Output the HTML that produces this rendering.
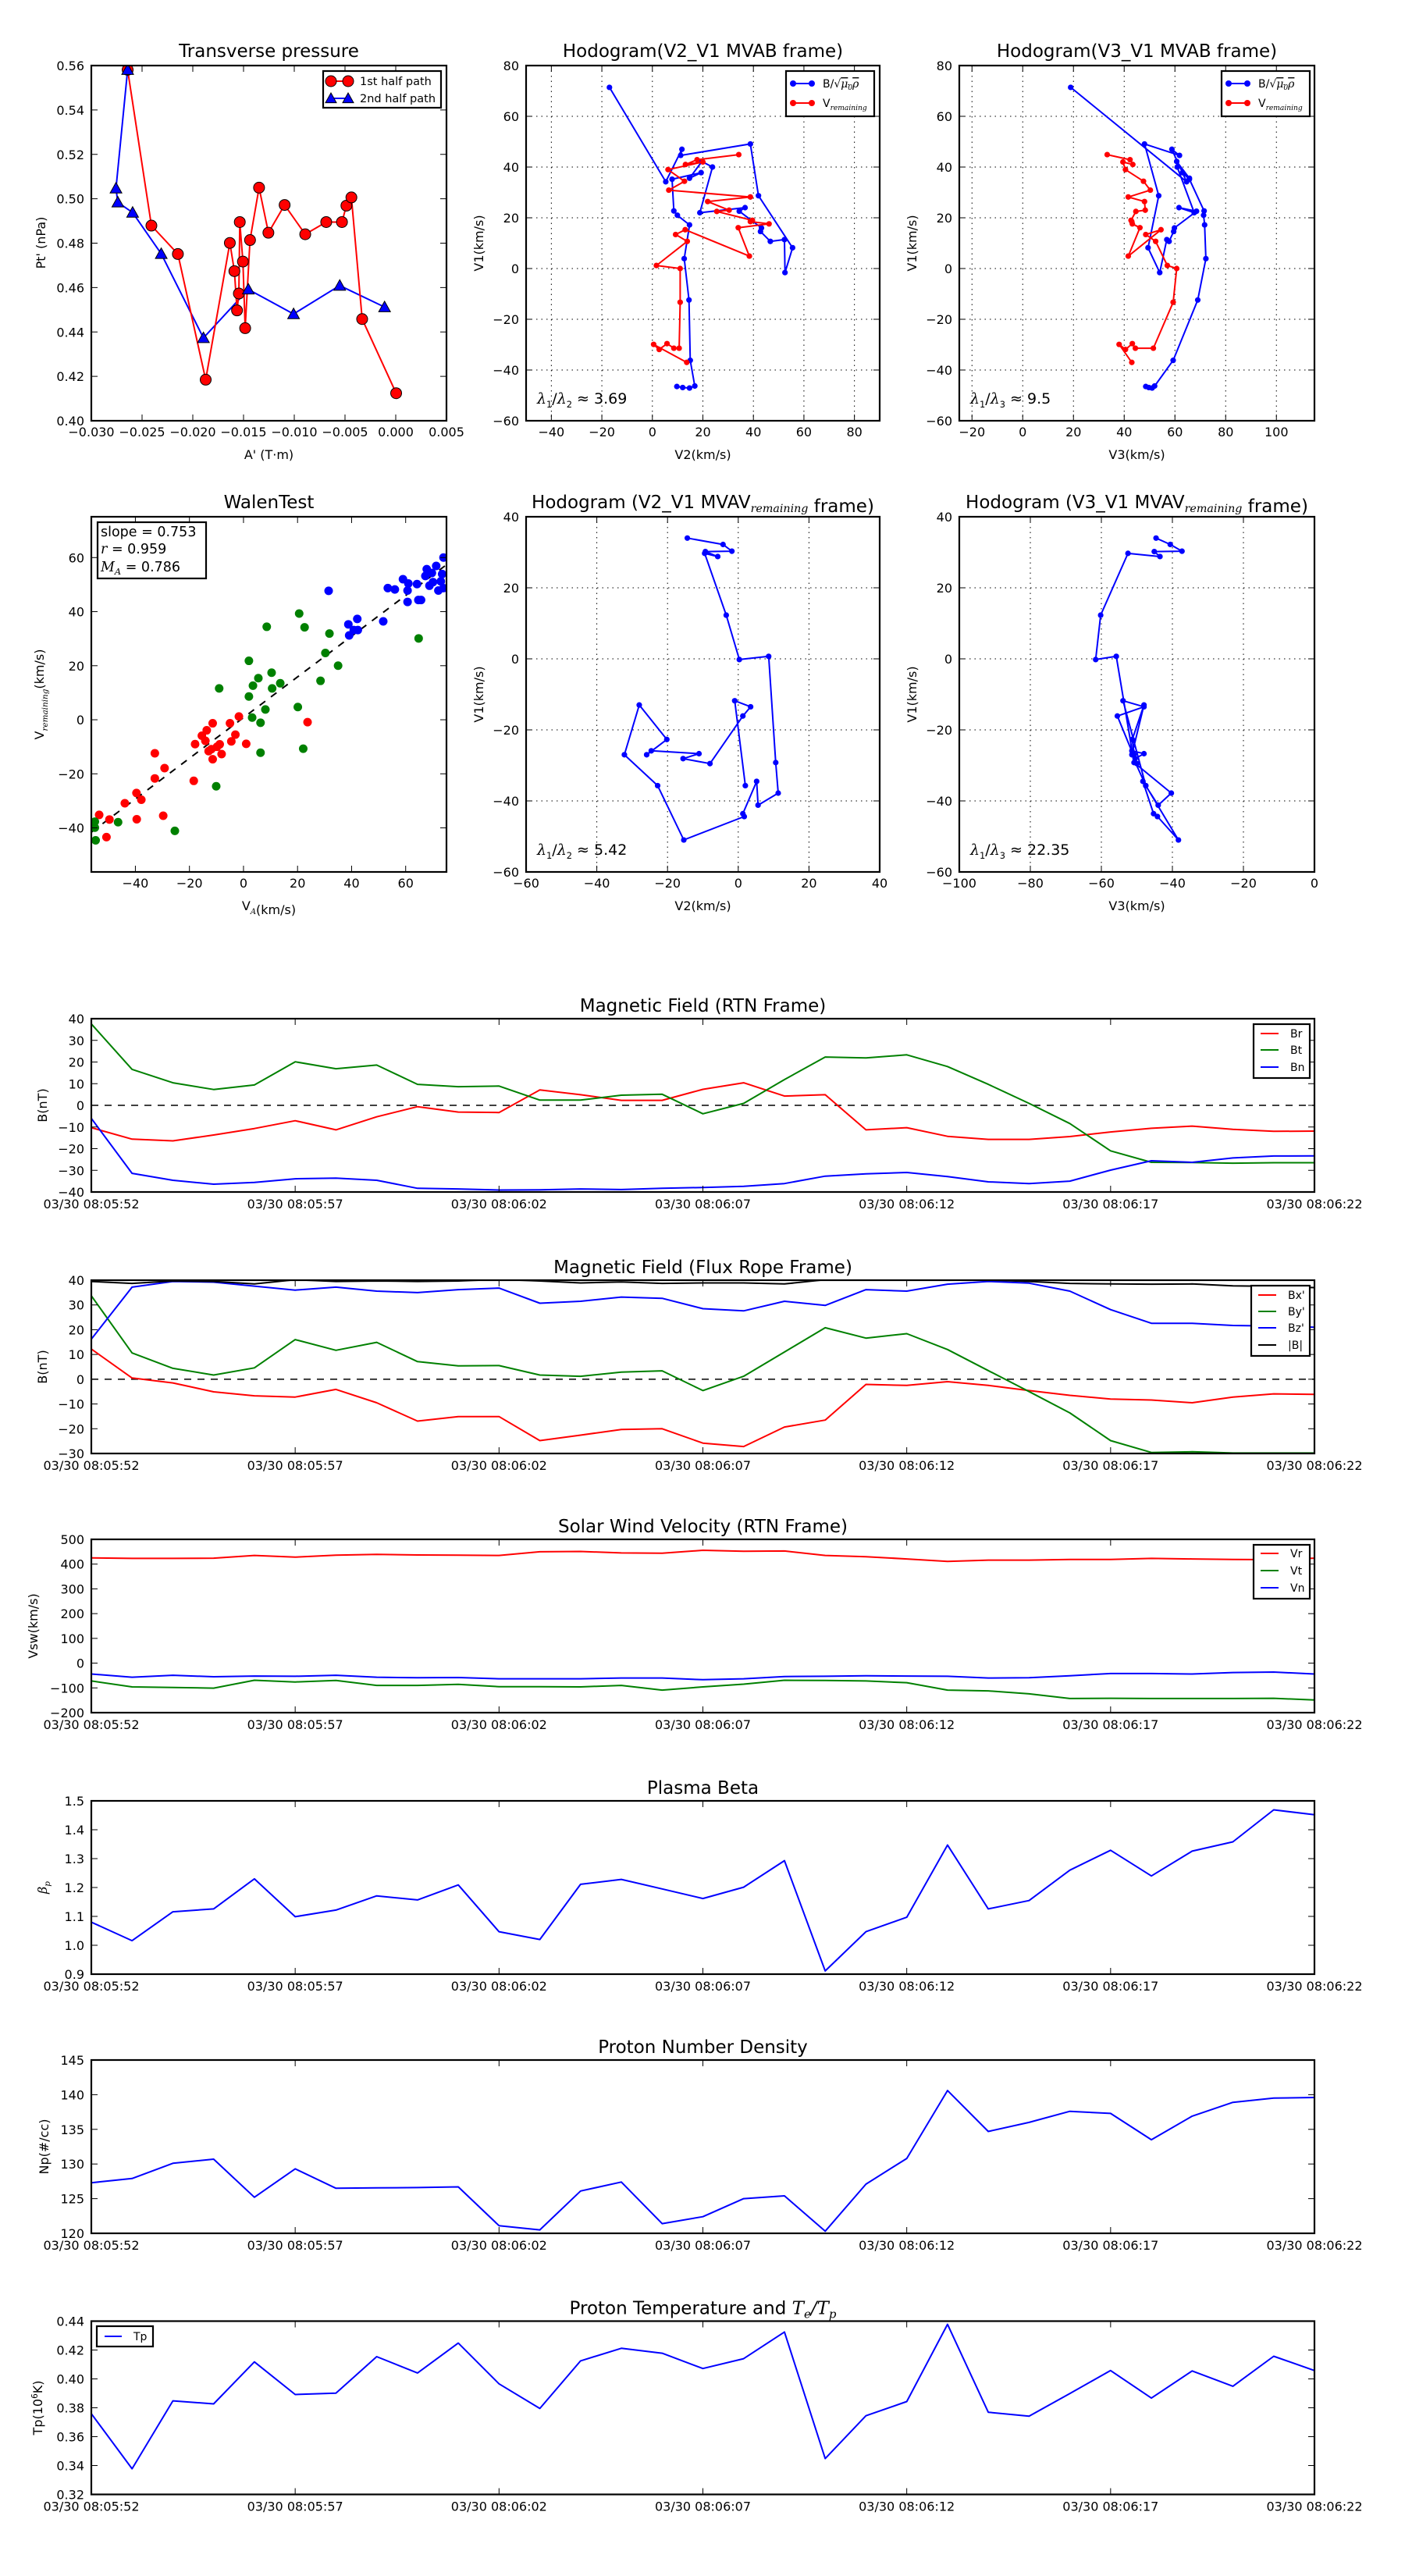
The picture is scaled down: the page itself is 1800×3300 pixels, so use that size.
<!DOCTYPE html>
<html><head><meta charset="utf-8"><title>Flux rope analysis</title>
<style>
body{margin:0;background:#fff}
svg{display:block;font-family:"DejaVu Sans","Liberation Sans",sans-serif}
</style></head>
<body>
<svg id="fig" width="1800" height="3300" viewBox="0 0 1800 3300" xmlns="http://www.w3.org/2000/svg">
<rect x="0" y="0" width="1800" height="3300" fill="#fff"/>
</svg>
<script>
// ---------- Transverse pressure ----------
const tpA1 = [-0.02642,-0.02408,-0.02147,-0.01873,-0.01635,-0.01590,-0.01564,-0.01546,-0.01537,-0.01506,-0.01484,-0.01436,-0.01347,-0.01255,-0.01095,-0.00892,-0.00685,-0.00530,-0.00486,-0.00437,-0.00331,0.00004];
const tpP1 = [0.5581,0.4879,0.4751,0.4185,0.4801,0.4674,0.4497,0.4573,0.4895,0.4717,0.4417,0.4814,0.5050,0.4847,0.4972,0.4840,0.4895,0.4895,0.4969,0.5006,0.4458,0.4124];
const tpA2 = [-0.02642,-0.02757,-0.02739,-0.02593,-0.02311,-0.01895,-0.01453,-0.01007,-0.00552,-0.00110];
const tpP2 = [0.5581,0.5047,0.4984,0.4938,0.4752,0.4373,0.4592,0.4481,0.4609,0.4512];
const tpXTicks = [-0.030,-0.025,-0.020,-0.015,-0.010,-0.005,0.000,0.005];
const tpYTicks = [0.40,0.42,0.44,0.46,0.48,0.50,0.52,0.54,0.56];

// ---------- Hodograms MVAB ----------
const hbV1 = [71.4,34.2,47,44.6,49.1,28.7,8.2,-1.6,11.4,10.7,14.6,16,22.6,24,22,40,42.2,35.6,37.8,35.2,22.7,21,17.2,3.9,-12.4,-36.2,-46.3,-47.1,-46.9,-46.5];
const hbV2 = [-17,5.3,11.7,11.2,38.8,42,55.5,52.5,52.3,46.7,42.8,43.2,34.4,36.7,18.8,23.8,19.6,14.7,19.3,7.8,8.5,9.9,14.7,12.6,14.5,15,16.8,14.7,12,9.7];
const hbV3 = [18.9,64.6,58.8,61.8,48,53.6,49.4,54,56.8,57.7,59.5,59.8,68.5,61.6,67.6,60.9,60.7,65.7,63,65.7,71.5,71.3,71.7,72.2,69,59.3,52,51,49.7,48.5];
const hvV1 = [44.9,42.9,41,42,39,34.4,30.9,28.2,26.4,23,22.5,19,18.5,17.6,16.1,4.9,15.3,13.4,10.7,1.2,0,-13.3,-31.4,-31.4,-29.6,-31.9,-29.9,-37];
const hvV2 = [34.2,17.7,13.1,20,6.2,12.7,6.5,38.8,21.9,30.4,25.5,39.6,38.8,46.2,34,38.4,13,9.2,13.8,1.6,11,11,10.6,8.5,5.8,2.7,0.5,13.6];
const hvV3 = [33.3,42.3,43.4,39.5,40.5,47.6,50.3,41.6,48,48.3,44.6,42.7,43,43.2,46.2,41.6,54.5,48.5,52.4,57,60.7,59.3,51.5,44.4,43.2,40.5,38,43];

// ---------- Hodograms MVAV ----------
const hmV1 = [34,32.2,30.3,30.2,28.8,29.7,12.3,-0.2,0.7,-29.2,-37.8,-41.2,-34.5,-43.6,-44.4,-51,-35.7,-27,-13,-22.7,-27,-25.9,-26.7,-28.1,-29.5,-16.1,-13.5,-11.8,-35.7];
const hmV2 = [-14.4,-4.3,-1.8,-9.3,-5.8,-9.5,-3.4,0.3,8.6,10.6,11.3,5.6,5.2,1.3,1.7,-15.4,-22.8,-32.2,-28,-20.2,-25.9,-24.6,-11.1,-15.6,-8,1.3,3.5,-1,2.0];
const hmV3 = [-44.6,-40.6,-37.3,-45.1,-43.5,-52.5,-60.2,-61.6,-55.8,-50.8,-40.3,-44,-48.3,-45.3,-44.2,-38.3,-47.5,-51.4,-48,-51.3,-50.8,-51.4,-48,-50.5,-50,-55.5,-48,-53.9,-47.5];

// ---------- Walen test ----------
const walenRedX = [-53.4,-49.6,-50.7,-43.9,-39.6,-37.8,-39.5,-32.8,-32.8,-29.2,-29.7,-18.4,-17.9,-15.4,-13.6,-14.1,-12.9,-11.4,-11.9,-11.4,-9.8,-8.8,-8.1,-5,-4.5,-3,-1.7,1,23.7];
const walenRedY = [-35.2,-36.9,-43.4,-30.9,-27.1,-29.6,-36.8,-12.4,-21.7,-17.9,-35.5,-22.6,-9,-5.9,-3.9,-7.8,-11.6,-1.3,-10.9,-14.6,-10,-9.1,-12.7,-1.3,-8,-5.5,1.2,-8.9,-0.9];
const walenGreenX = [-55,-55,-54.7,-46.4,-25.4,-10.1,-9,2,2,3.2,3.5,5.5,6.3,6.3,8.1,8.6,10.4,10.6,13.6,20.1,20.6,22.1,22.6,28.5,30.3,31.8,35,64.8];
const walenGreenY = [-37.7,-39.9,-44.6,-37.9,-41.1,-24.6,11.6,21.8,8.6,0.8,12.6,15.4,-1.1,-12.2,3.8,34.4,17.4,11.6,13.5,4.7,39.3,-10.7,34.2,14.4,24.7,31.9,20,30.1];
const walenBlueX = [31.5,38.8,39.1,40.8,42.1,42.3,51.7,53.4,56,59,60.7,60.7,61,64.2,64.7,65.7,67.3,67.8,68.8,69.7,70.1,71.3,72.1,73,73.5,74,74];
const walenBlueY = [47.7,35.3,31.2,33.2,37.3,33.2,36.4,48.7,48.2,52,43.6,47.8,50.4,50.2,44.3,44.3,53.2,55.7,49.6,54.3,50.9,56.9,47.8,51.2,53.9,60,48.7];
const walenSlope = 0.753;
const walenIntercept = 0.8;
const walenTicks = [-40,-20,0,20,40,60];

// ---------- Time series (1 s cadence, 31 samples) ----------
const timeSec = [0,1,2,3,4,5,6,7,8,9,10,11,12,13,14,15,16,17,18,19,20,21,22,23,24,25,26,27,28,29,30];
const timeTickSec = [0,5,10,15,20,25,30];
const timeTickLabels = ["03/30 08:05:52","03/30 08:05:57","03/30 08:06:02","03/30 08:06:07","03/30 08:06:12","03/30 08:06:17","03/30 08:06:22"];
const brRTN = [-10.3,-15.6,-16.4,-13.7,-10.7,-7.1,-11.3,-5.3,-0.6,-3.1,-3.3,7.1,4.9,2.3,2.3,7.4,10.4,4.3,4.9,-11.3,-10.3,-14.3,-15.7,-15.7,-14.4,-12.3,-10.6,-9.6,-11.1,-12,-11.9];
const btRTN = [37.6,16.6,10.4,7.3,9.4,20.1,16.9,18.6,9.7,8.6,8.9,2.4,2.4,4.7,5.1,-3.9,0.9,11.9,22.3,21.9,23.3,17.9,9.7,0.9,-8.4,-21,-26.3,-26.4,-26.7,-26.5,-26.5];
const bnRTN = [-6,-31.4,-34.6,-36.4,-35.6,-33.9,-33.6,-34.6,-38.3,-38.6,-39.1,-39,-38.6,-38.9,-38.3,-37.9,-37.4,-36.1,-32.7,-31.6,-31,-32.9,-35.3,-36.1,-35,-29.9,-25.6,-26.3,-24.3,-23.4,-23.3];
const bxFR = [12.2,0.5,-1.5,-5.1,-6.7,-7.2,-4.1,-9.5,-16.9,-15.1,-15.1,-24.8,-22.6,-20.3,-20,-25.8,-27.2,-19.3,-16.5,-2.1,-2.5,-1,-2.5,-4.6,-6.5,-8,-8.4,-9.5,-7.2,-5.9,-6.1];
const byFR = [33.7,10.6,4.4,1.7,4.6,16,11.7,14.9,7.1,5.4,5.5,1.7,1.2,2.9,3.4,-4.6,1.2,11,20.8,16.6,18.4,12,3.5,-5,-13.6,-24.8,-29.6,-29.3,-29.8,-29.8,-29.8];
const bzFR = [16.2,37.2,39.5,39.2,37.6,36,37.2,35.6,35,36.2,36.8,30.7,31.5,33.2,32.7,28.5,27.6,31.5,29.8,36.2,35.6,38.4,39.5,38.8,35.6,28.1,22.6,22.6,21.7,21.5,21];
const bmagFR = [39.5,38.7,39.7,39.5,38.5,40.2,39.5,39.7,39.5,39.7,40.3,39.7,38.9,39.3,38.7,38.9,38.9,38.5,40.2,40.3,40.3,40.2,40.1,39.5,38.7,38.5,38.4,38.5,37.7,37.5,37];
const vrRTN = [425,423,423,424,435,428,436,439,437,436,435,450,451,445,444,456,452,453,435,430,421,411,416,416,419,419,423,421,419,418,424];
const vtRTN = [-72,-96,-98,-101,-69,-76,-70,-90,-90,-86,-95,-95,-96,-90,-109,-96,-85,-69,-70,-72,-79,-109,-112,-124,-143,-142,-143,-143,-143,-142,-149];
const vnRTN = [-44,-57,-49,-55,-52,-53,-49,-57,-59,-58,-63,-63,-63,-60,-60,-67,-63,-54,-53,-51,-52,-53,-60,-59,-51,-42,-42,-44,-38,-36,-44];
const betaP = [1.080,1.016,1.116,1.126,1.230,1.099,1.122,1.171,1.157,1.209,1.047,1.020,1.211,1.228,1.195,1.162,1.201,1.293,0.911,1.047,1.097,1.347,1.126,1.155,1.260,1.329,1.240,1.326,1.358,1.469,1.452];
const npDens = [127.3,127.9,130.1,130.7,125.2,129.3,126.5,126.55,126.6,126.7,121.1,120.5,126.1,127.4,121.4,122.4,125.0,125.4,120.3,127.1,130.8,140.6,134.7,136.0,137.6,137.3,133.5,136.9,138.9,139.5,139.6];
const tpTemp = [0.3759,0.3378,0.3848,0.3827,0.4118,0.3892,0.3901,0.4154,0.4041,0.4248,0.3966,0.3795,0.4125,0.4212,0.4178,0.4072,0.4140,0.4325,0.3448,0.3745,0.3843,0.4378,0.3769,0.3742,0.3899,0.4058,0.3867,0.4055,0.3949,0.4157,0.4058];

// ================= helpers =================
const NS = 'http://www.w3.org/2000/svg';
const fig = document.getElementById('fig');
function mk(tag, parent, attrs) {
  const e = document.createElementNS(NS, tag);
  for (const k in attrs) e.setAttribute(k, attrs[k]);
  (parent || fig).appendChild(e);
  return e;
}
function range(a, b, s) { const r = []; for (let v = a; v <= b + 1e-9; v += s) r.push(Math.round(v * 1e6) / 1e6); return r; }
function mfmt(v, d) { const s = (d === undefined ? String(v) : v.toFixed(d)); return s.replace('-', '\u2212'); }
function label(parent, x, y, html, size, anchor, rot) {
  const t = mk('text', parent, {x: x, y: y, 'font-size': size, 'text-anchor': anchor || 'middle', fill: '#000'});
  if (rot) t.setAttribute('transform', `rotate(-90 ${x} ${y})`);
  t.innerHTML = html;
  return t;
}
let clipN = 0;
function axes(name, x0, y0, w, h, xlim, ylim) {
  const g = mk('g', fig, {});
  
  
  const cid = 'clip' + (clipN++);
  const cp = mk('clipPath', g, {id: cid});
  mk('rect', cp, {x: x0, y: y0, width: w, height: h});
  const plot = mk('g', g, {'clip-path': `url(#${cid})`});
  
  
  return {g, plot, x0, y0, w, h,
    sx: v => x0 + (v - xlim[0]) / (xlim[1] - xlim[0]) * w,
    sy: v => y0 + h - (v - ylim[0]) / (ylim[1] - ylim[0]) * h};
}
function frame(ax) {
  const r = mk('rect', ax.g, {x: ax.x0, y: ax.y0, width: ax.w, height: ax.h, fill: 'none', stroke: '#000', 'stroke-width': 2.2});
  
  
}
function xTicks(ax, vals, labels, dy, size) {
  const g = mk('g', ax.g, {});
  
  
  vals.forEach((v, i) => {
    const x = ax.sx(v);
    mk('line', g, {x1: x, x2: x, y1: ax.y0 + ax.h, y2: ax.y0 + ax.h - 8, stroke: '#000', 'stroke-width': 1});
    mk('line', g, {x1: x, x2: x, y1: ax.y0, y2: ax.y0 + 8, stroke: '#000', 'stroke-width': 1});
    label(g, x, ax.y0 + ax.h + (dy || 20), labels[i], size || 16, 'middle');
  });
}
function yTicks(ax, vals, labels) {
  const g = mk('g', ax.g, {});
  
  
  vals.forEach((v, i) => {
    const y = ax.sy(v);
    mk('line', g, {x1: ax.x0, x2: ax.x0 + 8, y1: y, y2: y, stroke: '#000', 'stroke-width': 1});
    mk('line', g, {x1: ax.x0 + ax.w, x2: ax.x0 + ax.w - 8, y1: y, y2: y, stroke: '#000', 'stroke-width': 1});
    label(g, ax.x0 - 9, y + 6, labels[i], 16, 'end');
  });
}
function grid(ax, xv, yv) {
  const g = mk('g', ax.plot, {});
  
  
  xv.forEach(v => mk('line', g, {x1: ax.sx(v), x2: ax.sx(v), y1: ax.y0, y2: ax.y0 + ax.h, stroke: '#000', 'stroke-width': 1, 'stroke-dasharray': '1.5,5'}));
  yv.forEach(v => mk('line', g, {x1: ax.x0, x2: ax.x0 + ax.w, y1: ax.sy(v), y2: ax.sy(v), stroke: '#000', 'stroke-width': 1, 'stroke-dasharray': '1.5,5'}));
}
function series(ax, xs, ys, color, lw) {
  const pts = xs.map((x, i) => ax.sx(x).toFixed(1) + ',' + ax.sy(ys[i]).toFixed(1)).join(' ');
  return mk('polyline', ax.plot, {points: pts, fill: 'none', stroke: color, 'stroke-width': lw || 2, 'stroke-linejoin': 'round'});
}
function dots(ax, xs, ys, color, r, stroke) {
  const g = mk('g', ax.plot, {});
  xs.forEach((x, i) => mk('circle', g, {cx: ax.sx(x), cy: ax.sy(ys[i]), r: r, fill: color, stroke: stroke || 'none', 'stroke-width': 1}));
  return g;
}
function tris(ax, xs, ys, color, s) {
  const g = mk('g', ax.plot, {});
  xs.forEach((x, i) => {
    const cx = ax.sx(x), cy = ax.sy(ys[i]);
    mk('polygon', g, {points: `${cx},${cy - s} ${cx - s},${cy + s * 0.8} ${cx + s},${cy + s * 0.8}`, fill: color, stroke: '#000', 'stroke-width': 1});
  });
  return g;
}
function legendBox(x, y, w, h) {
  const g = mk('g', fig, {});
  mk('rect', g, {x: x, y: y, width: w, height: h, fill: '#fff', stroke: '#000', 'stroke-width': 2.2});
  return g;
}
function legendLine(g, x1, x2, y, color, tx, text, size, marker) {
  mk('line', g, {x1: x1, x2: x2, y1: y, y2: y, stroke: color, 'stroke-width': 2});
  if (marker === 'dot') { mk('circle', g, {cx: x1 + 1, cy: y, r: 4, fill: color}); mk('circle', g, {cx: x2 - 1, cy: y, r: 4, fill: color}); }
  if (marker === 'bigdot') { mk('circle', g, {cx: x1, cy: y, r: 7, fill: color, stroke: '#000'}); mk('circle', g, {cx: x2, cy: y, r: 7, fill: color, stroke: '#000'}); }
  if (marker === 'tri') {
    [x1, x2].forEach(cx => mk('polygon', g, {points: `${cx},${y - 7} ${cx - 7},${y + 5.6} ${cx + 7},${y + 5.6}`, fill: color, stroke: '#000'}));
  }
  label(g, tx, y + 5, text, size || 14, 'start');
}
const SUB = (s) => `<tspan font-family="DejaVu Serif" font-style="italic" font-size="0.62em" dy="5">${s}</tspan><tspan dy="-5"></tspan>`;
const LAM = (a, b, val) => `<tspan font-family="DejaVu Serif" font-style="italic">λ</tspan><tspan font-size="0.6em" dy="5">${a}</tspan><tspan dy="-5">/</tspan><tspan font-family="DejaVu Serif" font-style="italic">λ</tspan><tspan font-size="0.6em" dy="5">${b}</tspan><tspan dy="-5"> ≈ ${val}</tspan>`;

// ================= Row 1: Transverse pressure =================
(function () {
  const ax = axes('transverse-pressure-chart', 117, 84, 455, 455, [-0.030, 0.005], [0.40, 0.56]);
  const l2 = series(ax, tpA2, tpP2, '#0000ff');
  
  
  const l1 = series(ax, tpA1, tpP1, '#ff0000');
  
  
  const m1 = dots(ax, tpA1, tpP1, '#ff0000', 7, '#000');
  
  
  const m2 = tris(ax, tpA2, tpP2, '#0000ff', 7.5);
  
  
  xTicks(ax, tpXTicks, tpXTicks.map(v => mfmt(v, 3)));
  yTicks(ax, tpYTicks, tpYTicks.map(v => mfmt(v, 2)));
  frame(ax);
  const t = label(fig, 344.5, 73, 'Transverse pressure', 23);
  
  
  const xl = label(fig, 344.5, 588, "A' (T·m)", 16);
  
  
  const yl = label(fig, 58, 311, "Pt' (nPa)", 16, 'middle', true);
  
  
  const lg = legendBox(414, 91, 151, 47);
  
  
  legendLine(lg, 424, 446, 104, '#ff0000', 461, '1st half path', 14.5, 'bigdot');
  legendLine(lg, 424, 446, 126, '#0000ff', 461, '2nd half path', 14.5, 'tri');
})();

// ================= Hodogram helper =================
function hodo(name, x0, y0, w, h, xlim, ylim, xt, yt, title, xlab, lamHtml, bx, bv, vx, vv, legendX) {
  const ax = axes(name, x0, y0, w, h, xlim, ylim);
  grid(ax, xt, yt);
  const lb = series(ax, bx, bv, '#0000ff');
  
  
  const mb = dots(ax, bx, bv, '#0000ff', 3.6);
  
  
  if (vx) {
    const lv = series(ax, vx, vv, '#ff0000');
    
    
    const mv = dots(ax, vx, vv, '#ff0000', 3.6);
    
    
  }
  xTicks(ax, xt, xt.map(v => mfmt(v)));
  yTicks(ax, yt, yt.map(v => mfmt(v)));
  frame(ax);
  const t = label(fig, x0 + w / 2, y0 - 11, title, 23);
  
  
  const xl = label(fig, x0 + w / 2, y0 + h + 49, xlab, 16);
  
  
  const yl = label(fig, x0 - 55, y0 + h / 2, 'V1(km/s)', 16, 'middle', true);
  
  
  const lt = label(fig, x0 + 14, y0 + h - 22, lamHtml, 19, 'start');
  
  
  if (legendX) {
    const lg = legendBox(legendX, y0 + 7, 113, 58);
    
    
    legendLine(lg, legendX + 8, legendX + 34, y0 + 23, '#0000ff', legendX + 47, 'B/√<tspan text-decoration="overline" font-family="DejaVu Serif" font-style="italic">μ<tspan font-size="0.65em" dy="3">0</tspan><tspan dy="-3">ρ</tspan></tspan>', 14, 'dot');
    legendLine(lg, legendX + 8, legendX + 34, y0 + 48, '#ff0000', legendX + 47, 'V<tspan font-family="DejaVu Serif" font-style="italic" font-size="0.65em" dy="4">remaining</tspan>', 14, 'dot');
  }
  return ax;
}
hodo('hodogram-v2-v1-mvab', 674, 84, 453, 455, [-50, 90], [-60, 80], range(-40, 80, 20), range(-60, 80, 20),
  'Hodogram(V2_V1 MVAB frame)', 'V2(km/s)', LAM(1, 2, '3.69'), hbV2, hbV1, hvV2, hvV1, 1007);
hodo('hodogram-v3-v1-mvab', 1229, 84, 455, 455, [-25, 115], [-60, 80], range(-20, 100, 20), range(-60, 80, 20),
  'Hodogram(V3_V1 MVAB frame)', 'V3(km/s)', LAM(1, 3, '9.5'), hbV3, hbV1, hvV3, hvV1, 1565);
hodo('hodogram-v2-v1-mvav', 674, 662, 453, 455, [-60, 40], [-60, 40], range(-60, 40, 20), range(-60, 40, 20),
  'Hodogram (V2_V1 MVAV' + SUB('remaining') + ' frame)', 'V2(km/s)', LAM(1, 2, '5.42'), hmV2, hmV1, null, null, 0);
hodo('hodogram-v3-v1-mvav', 1229, 662, 455, 455, [-100, 0], [-60, 40], range(-100, 0, 20), range(-60, 40, 20),
  'Hodogram (V3_V1 MVAV' + SUB('remaining') + ' frame)', 'V3(km/s)', LAM(1, 3, '22.35'), hmV3, hmV1, null, null, 0);

// ================= Walen test =================
(function () {
  const lim = [-56.3, 75.1];
  const ax = axes('walen-test-chart', 117, 662, 455, 455, lim, lim);
  const fit = mk('line', ax.plot, {x1: ax.sx(lim[0]), y1: ax.sy(walenSlope * lim[0] + walenIntercept), x2: ax.sx(lim[1]), y2: ax.sy(walenSlope * lim[1] + walenIntercept), stroke: '#000', 'stroke-width': 2, 'stroke-dasharray': '9,9'});
  
  
  const r = dots(ax, walenRedX, walenRedY, '#ff0000', 5.5);
  
  
  const gr = dots(ax, walenGreenX, walenGreenY, '#008000', 5.5);
  
  
  const b = dots(ax, walenBlueX, walenBlueY, '#0000ff', 5.5);
  
  
  xTicks(ax, walenTicks, walenTicks.map(v => mfmt(v)));
  yTicks(ax, walenTicks, walenTicks.map(v => mfmt(v)));
  frame(ax);
  const t = label(fig, 344.5, 651, 'WalenTest', 23);
  
  
  const xl = label(fig, 344.5, 1166, 'V' + SUB('A') + '(km/s)', 16);
  
  
  const yl = label(fig, 56, 889.5, 'V<tspan font-family="DejaVu Serif" font-style="italic" font-size="0.65em" dy="5">remaining</tspan><tspan dy="-5">(km/s)</tspan>', 16, 'middle', true);
  
  
  const box = mk('g', fig, {});
  
  
  mk('rect', box, {x: 125, y: 669, width: 139, height: 72, fill: '#fff', stroke: '#000', 'stroke-width': 2.2});
  label(box, 129, 687, 'slope = 0.753', 17.5, 'start');
  label(box, 129, 709, '<tspan font-family="DejaVu Serif" font-style="italic">r</tspan> = 0.959', 17.5, 'start');
  label(box, 129, 732, '<tspan font-family="DejaVu Serif" font-style="italic">M</tspan><tspan font-family="DejaVu Serif" font-style="italic" font-size="0.65em" dy="4">A</tspan><tspan dy="-4"> = 0.786</tspan>', 17.5, 'start');
})();

// ================= Time series =================
const TX0 = 117, TW = 1567, TH = 222;
function timePanel(name, top, ylim, yt, ydec, title, ylab, ylabX, lines, zero) {
  const ax = axes(name, TX0, top, TW, TH, [0, 30], ylim);
  if (zero) {
    const z = mk('line', ax.plot, {x1: TX0, x2: TX0 + TW, y1: ax.sy(0), y2: ax.sy(0), stroke: '#000', 'stroke-width': 1.5, 'stroke-dasharray': '9,8'});
    
    
  }
  lines.forEach(L => {
    const p = series(ax, timeSec, L.data, L.color, 2);
    
    
  });
  xTicks(ax, timeTickSec, timeTickLabels, 21, 16);
  yTicks(ax, yt, yt.map(v => mfmt(v, ydec)));
  frame(ax);
  const t = label(fig, TX0 + TW / 2, top - 9, title, 23);
  
  
  const yl = label(fig, ylabX, top + TH / 2, ylab, 16, 'middle', true);
  
  
  return ax;
}
timePanel('magnetic-field-rtn', 1305, [-40, 40], range(-40, 40, 10), 0, 'Magnetic Field (RTN Frame)', 'B(nT)', 60,
  [{data: brRTN, color: '#ff0000', name: 'br-line'}, {data: btRTN, color: '#008000', name: 'bt-line'}, {data: bnRTN, color: '#0000ff', name: 'bn-line'}], true);
timePanel('magnetic-field-flux-rope', 1640, [-30, 40], range(-30, 40, 10), 0, 'Magnetic Field (Flux Rope Frame)', 'B(nT)', 60,
  [{data: bxFR, color: '#ff0000', name: 'bx-prime-line'}, {data: byFR, color: '#008000', name: 'by-prime-line'}, {data: bzFR, color: '#0000ff', name: 'bz-prime-line'}, {data: bmagFR, color: '#000000', name: 'b-magnitude-line'}], true);
timePanel('solar-wind-velocity', 1972, [-200, 500], range(-200, 500, 100), 0, 'Solar Wind Velocity (RTN Frame)', 'Vsw(km/s)', 48,
  [{data: vrRTN, color: '#ff0000', name: 'vr-line'}, {data: vtRTN, color: '#008000', name: 'vt-line'}, {data: vnRTN, color: '#0000ff', name: 'vn-line'}], false);
timePanel('plasma-beta', 2307, [0.9, 1.5], range(0.9, 1.5, 0.1), 1, 'Plasma Beta',
  '<tspan font-family="DejaVu Serif" font-style="italic">β</tspan><tspan font-family="DejaVu Serif" font-style="italic" font-size="0.65em" dy="4">p</tspan>', 60,
  [{data: betaP, color: '#0000ff', name: 'beta-line'}], false);
timePanel('proton-density', 2639, [120, 145], range(120, 145, 5), 0, 'Proton Number Density', 'Np(#/cc)', 62,
  [{data: npDens, color: '#0000ff', name: 'density-line'}], false);
timePanel('proton-temperature', 2973.5, [0.32, 0.44], range(0.32, 0.44, 0.02), 2,
  'Proton Temperature and <tspan font-family="DejaVu Serif" font-style="italic">T</tspan><tspan font-family="DejaVu Serif" font-style="italic" font-size="0.65em" dy="5">e</tspan><tspan dy="-5" font-family="DejaVu Serif" font-style="italic">/T</tspan><tspan font-family="DejaVu Serif" font-style="italic" font-size="0.65em" dy="5">p</tspan>',
  'Tp(10<tspan font-size="0.65em" dy="-6">6</tspan><tspan dy="6">K)</tspan>', 54,
  [{data: tpTemp, color: '#0000ff', name: 'temperature-line'}], false);

// legends for time series
(function () {
  const l1 = legendBox(1606, 1312, 72, 69);
  
  
  legendLine(l1, 1615, 1638, 1324, '#ff0000', 1653, 'Br');
  legendLine(l1, 1615, 1638, 1345, '#008000', 1653, 'Bt');
  legendLine(l1, 1615, 1638, 1367, '#0000ff', 1653, 'Bn');
  const l2 = legendBox(1603, 1647, 75, 90);
  
  
  legendLine(l2, 1612, 1635, 1659, '#ff0000', 1650, "Bx'");
  legendLine(l2, 1612, 1635, 1680, '#008000', 1650, "By'");
  legendLine(l2, 1612, 1635, 1701, '#0000ff', 1650, "Bz'");
  legendLine(l2, 1612, 1635, 1723, '#000000', 1650, '|B|');
  const l3 = legendBox(1606, 1979, 72, 69);
  
  
  legendLine(l3, 1615, 1638, 1990, '#ff0000', 1653, 'Vr');
  legendLine(l3, 1615, 1638, 2012, '#008000', 1653, 'Vt');
  legendLine(l3, 1615, 1638, 2034, '#0000ff', 1653, 'Vn');
  const l4 = legendBox(124, 2980, 72, 26);
  
  
  legendLine(l4, 134, 156, 2993, '#0000ff', 171, 'Tp');
})();
</script>
</body></html>
